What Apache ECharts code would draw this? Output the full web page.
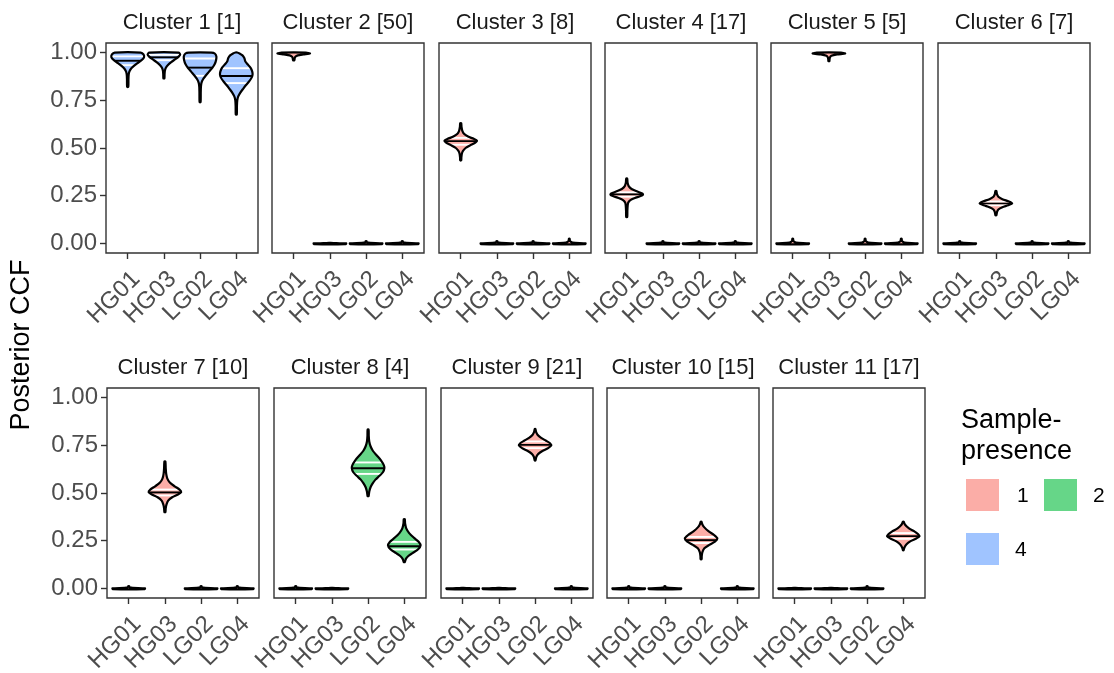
<!DOCTYPE html>
<html>
<head>
<meta charset="utf-8">
<script src="https://cdn.jsdelivr.net/npm/echarts@6/dist/echarts.min.js"></script>
<style>
  html, body { margin: 0; padding: 0; background: #fff; }
  #chart { width: 1114px; height: 673px; }
</style>
</head>
<body>
<div id="chart"></div>
<script>
// ---------------- DATA ----------------
const samples = ['HG01', 'HG03', 'LG02', 'LG04'];
const clusterLabels = ['Cluster 1 [1]', 'Cluster 2 [50]', 'Cluster 3 [8]', 'Cluster 4 [17]',
  'Cluster 5 [5]', 'Cluster 6 [7]', 'Cluster 7 [10]', 'Cluster 8 [4]', 'Cluster 9 [21]',
  'Cluster 10 [15]', 'Cluster 11 [17]'];
const samplePresence = [4, 1, 1, 1, 1, 1, 1, 2, 1, 1, 1];
const presenceLevels = [1, 2, 4];
const yTicks = [0, 0.25, 0.5, 0.75, 1];
const yTitle = 'Posterior CCF';
const legendTitle = ['Sample-', 'presence'];

// violin outlines: [CCF value, relative half-width], top to bottom
// quantiles: [q25, median, q75]
const flatNone = [[0.003, 0.05], [0.0015, 0.4], [0, 1], [-0.004, 0.95]];
const flatLow = [[0.012, 0.02], [0.006, 0.06], [0.003, 0.25], [0, 1], [-0.004, 0.95]];
const flatSpike = [[0.025, 0.02], [0.012, 0.05], [0.005, 0.2], [0, 1], [-0.004, 0.95]];

const cluster1 = [
  [[[1.0, 0.8], [0.99, 0.97], [0.975, 1.0], [0.96, 0.85], [0.945, 0.6], [0.93, 0.38], [0.915, 0.2], [0.9, 0.1], [0.885, 0.06], [0.86, 0.045], [0.82, 0.035]], [0.934, 0.957, 0.98]],
  [[[1.0, 0.9], [0.99, 1.0], [0.98, 0.92], [0.965, 0.7], [0.95, 0.45], [0.935, 0.25], [0.92, 0.12], [0.905, 0.06], [0.885, 0.04], [0.865, 0.03]], [0.96, 0.975, 0.988]],
  [[[1.0, 0.7], [0.995, 0.9], [0.98, 1.0], [0.96, 0.98], [0.94, 0.9], [0.92, 0.75], [0.9, 0.55], [0.88, 0.35], [0.86, 0.18], [0.84, 0.08], [0.82, 0.05], [0.79, 0.04], [0.74, 0.03]], [0.878, 0.921, 0.969]],
  [[[1.0, 0.05], [0.995, 0.2], [0.985, 0.38], [0.97, 0.5], [0.955, 0.55], [0.94, 0.68], [0.92, 0.88], [0.9, 0.98], [0.885, 1.0], [0.87, 0.95], [0.85, 0.8], [0.83, 0.6], [0.81, 0.42], [0.79, 0.25], [0.77, 0.12], [0.75, 0.06], [0.72, 0.04], [0.675, 0.03]], [0.84, 0.877, 0.918]]
];
const cluster2 = [
  [[[1.0, 0.75], [0.995, 1.0], [0.99, 0.6], [0.985, 0.25], [0.978, 0.1], [0.97, 0.06], [0.96, 0.04]], null],
  [flatNone, null], [flatLow, null], [flatLow, null]
];
const cluster3 = [
  [[[0.63, 0.03], [0.61, 0.05], [0.59, 0.1], [0.575, 0.2], [0.56, 0.45], [0.548, 0.8], [0.538, 1.0], [0.528, 0.9], [0.515, 0.6], [0.5, 0.3], [0.485, 0.14], [0.47, 0.07], [0.45, 0.04], [0.435, 0.03]], [0.517, 0.536, 0.553]],
  [flatLow, null], [flatLow, null], [flatSpike, null]
];
const cluster4 = [
  [[[0.34, 0.03], [0.32, 0.05], [0.3, 0.12], [0.285, 0.3], [0.272, 0.65], [0.262, 0.95], [0.256, 1.0], [0.248, 0.85], [0.238, 0.5], [0.228, 0.25], [0.215, 0.1], [0.2, 0.06], [0.17, 0.04], [0.138, 0.03]], [0.245, 0.258, 0.268]],
  [flatLow, null], [flatLow, null], [flatLow, null]
];
const cluster5 = [
  [flatSpike, null],
  [[[1.0, 0.75], [0.995, 1.0], [0.99, 0.5], [0.983, 0.15], [0.975, 0.07], [0.965, 0.04], [0.955, 0.03]], null],
  [flatSpike, null], [flatSpike, null]
];
const cluster6 = [
  [flatLow, null],
  [[[0.275, 0.03], [0.26, 0.06], [0.245, 0.15], [0.232, 0.4], [0.22, 0.8], [0.21, 1.0], [0.2, 0.75], [0.19, 0.4], [0.178, 0.15], [0.165, 0.07], [0.148, 0.03]], [0.2, 0.21, 0.22]],
  [flatLow, null], [flatLow, null]
];
const cluster7 = [
  [flatLow, null],
  [[[0.665, 0.03], [0.63, 0.05], [0.6, 0.08], [0.575, 0.15], [0.555, 0.3], [0.535, 0.6], [0.518, 0.9], [0.505, 1.0], [0.492, 0.8], [0.478, 0.45], [0.46, 0.2], [0.44, 0.1], [0.42, 0.05], [0.4, 0.03]], [0.487, 0.503, 0.518]],
  [flatLow, null], [flatLow, null]
];
const cluster8 = [
  [flatLow, null], [flatNone, null],
  [[[0.832, 0.03], [0.8, 0.04], [0.77, 0.07], [0.745, 0.15], [0.72, 0.3], [0.695, 0.55], [0.67, 0.8], [0.645, 0.97], [0.63, 1.0], [0.61, 0.92], [0.59, 0.7], [0.57, 0.45], [0.55, 0.28], [0.53, 0.15], [0.51, 0.08], [0.495, 0.05], [0.484, 0.03]], [0.6, 0.63, 0.66]],
  [[[0.363, 0.03], [0.34, 0.05], [0.315, 0.12], [0.29, 0.3], [0.265, 0.6], [0.245, 0.88], [0.225, 1.0], [0.205, 0.85], [0.185, 0.5], [0.17, 0.25], [0.155, 0.1], [0.138, 0.03]], [0.204, 0.221, 0.244]]
];
const cluster9 = [
  [flatNone, null], [flatNone, null],
  [[[0.835, 0.02], [0.82, 0.06], [0.805, 0.15], [0.79, 0.35], [0.775, 0.65], [0.762, 0.9], [0.75, 1.0], [0.735, 0.8], [0.72, 0.45], [0.705, 0.2], [0.69, 0.08], [0.67, 0.02]], [0.735, 0.752, 0.77]],
  [flatLow, null]
];
const cluster10 = [
  [flatLow, null], [flatLow, null],
  [[[0.35, 0.02], [0.335, 0.08], [0.32, 0.2], [0.3, 0.45], [0.28, 0.8], [0.262, 1.0], [0.245, 0.85], [0.228, 0.5], [0.21, 0.2], [0.19, 0.08], [0.17, 0.04], [0.153, 0.03]], [0.238, 0.253, 0.27]],
  [flatLow, null]
];
const cluster11 = [
  [flatNone, null], [flatNone, null], [flatLow, null],
  [[[0.35, 0.02], [0.335, 0.1], [0.315, 0.35], [0.298, 0.7], [0.285, 0.9], [0.274, 1.0], [0.262, 0.8], [0.248, 0.45], [0.232, 0.2], [0.215, 0.07], [0.2, 0.02]], [0.26, 0.274, 0.29]]
];
const clusters = [cluster1, cluster2, cluster3, cluster4, cluster5, cluster6, cluster7, cluster8, cluster9, cluster10, cluster11];

// ---------------- STYLE / LAYOUT ----------------
const presenceColors = { 1: '#FBADA7', 2: '#66D688', 4: '#A0C4FF' };
const FONT = '"Liberation Sans", Arial, Helvetica, sans-serif';
const panelW = 152, panelH = 210;
const panelPos = [
  [106, 43], [272, 43], [439, 43], [605, 43], [771, 43], [938, 43],
  [107, 388], [274, 388], [441, 388], [607, 388], [773, 388]
];

function widthAt(prof, y) {
  for (let i = 0; i < prof.length - 1; i++) {
    const a = prof[i], b = prof[i + 1];
    if (y <= a[0] && y >= b[0]) {
      const t = (a[0] - y) / (a[0] - b[0]);
      return a[1] + (b[1] - a[1]) * t;
    }
  }
  return 0;
}

function makeRender(violins, color) {
  return function (params, api) {
    const xv = api.value(0);
    const v = violins[api.value(1)];
    const prof = v[0];
    const half = api.size([0.45, 0])[0];
    const cx = api.coord([xv, 0])[0];
    const right = prof.map(p => [cx + p[1] * half, api.coord([xv, p[0]])[1]]);
    const left = prof.slice().reverse().map(p => [cx - p[1] * half, api.coord([xv, p[0]])[1]]);
    const pts = right.concat(left);
    const children = [{
      type: 'polygon', shape: { points: pts, smooth: 0.25 },
      style: { fill: color, stroke: null }
    }];
    if (v[1]) {
      v[1].forEach((q, k) => {
        const w = widthAt(prof, q) * half;
        const yy = api.coord([xv, q])[1];
        children.push({
          type: 'line', shape: { x1: cx - w, y1: yy, x2: cx + w, y2: yy },
          style: { stroke: k === 1 ? '#000000' : '#FFFFFF', lineWidth: 1.9 }
        });
      });
    }
    children.push({
      type: 'polygon', shape: { points: pts, smooth: 0.25 },
      style: { fill: null, stroke: '#000000', lineWidth: 2.2, lineJoin: 'round' }
    });
    return { type: 'group', children: children };
  };
}

const grids = [], xAxes = [], yAxes = [], series = [], graphics = [];
clusters.forEach((cl, i) => {
  const [l, t] = panelPos[i];
  const firstCol = (i === 0 || i === 6);
  grids.push({ left: l, top: t, width: panelW, height: panelH, show: true,
    containLabel: false, outerBoundsMode: 'none',
    borderColor: '#333333', borderWidth: 1.4, backgroundColor: 'transparent' });
  xAxes.push({
    type: 'value', gridIndex: i, min: 0.4, max: 4.6, position: 'bottom',
    axisLine: { show: false, onZero: false }, splitLine: { show: false },
    axisTick: { show: true, customValues: [1, 2, 3, 4], length: 6, lineStyle: { color: '#333333', width: 1.4 } },
    axisLabel: { show: true, customValues: [1, 2, 3, 4], rotate: 45, margin: 14,
      align: 'right', verticalAlign: 'top',
      formatter: v => samples[Math.round(v) - 1], color: '#4D4D4D', fontSize: 24, fontFamily: FONT }
  });
  yAxes.push({
    type: 'value', gridIndex: i, min: -0.05, max: 1.05, position: 'left',
    axisLine: { show: false, onZero: false }, splitLine: { show: false },
    axisTick: { show: firstCol, customValues: yTicks, length: 6, lineStyle: { color: '#333333', width: 1.4 } },
    axisLabel: { show: firstCol, customValues: yTicks, margin: 9,
      formatter: v => v.toFixed(2), color: '#4D4D4D', fontSize: 24, fontFamily: FONT }
  });
  series.push({
    type: 'custom', xAxisIndex: i, yAxisIndex: i,
    renderItem: makeRender(cl, presenceColors[samplePresence[i]]),
    data: samples.map((s, k) => [k + 1, k]),
    silent: true, animation: false
  });
  graphics.push({
    type: 'text', x: l + panelW / 2, y: t - 20,
    style: { text: clusterLabels[i], fill: '#1A1A1A', font: '22px ' + FONT, textAlign: 'center', textVerticalAlign: 'middle' }
  });
});

// y title
graphics.push({
  type: 'text', x: 22, y: 345, rotation: Math.PI / 2,
  style: { text: yTitle, fill: '#000000', font: '27px ' + FONT, textAlign: 'center', textVerticalAlign: 'middle' }
});
// legend
graphics.push({ type: 'text', x: 961, y: 421, style: { text: legendTitle[0], fill: '#000', font: '27px ' + FONT, textAlign: 'left', textVerticalAlign: 'middle' } });
graphics.push({ type: 'text', x: 961, y: 452, style: { text: legendTitle[1], fill: '#000', font: '27px ' + FONT, textAlign: 'left', textVerticalAlign: 'middle' } });
const legendSlots = [[966, 479, 1017], [1044, 479, 1093], [966, 533, 1015]];
presenceLevels.forEach((lv, k) => {
  const [sx, sy, tx] = legendSlots[k];
  graphics.push({ type: 'rect', shape: { x: sx, y: sy, width: 33, height: 32 }, style: { fill: presenceColors[lv] } });
  graphics.push({ type: 'text', x: tx, y: sy + 17, style: { text: String(lv), fill: '#000', font: '21px ' + FONT, textAlign: 'left', textVerticalAlign: 'middle' } });
});

const chart = echarts.init(document.getElementById('chart'), null, { renderer: 'canvas' });
chart.setOption({
  backgroundColor: '#ffffff',
  animation: false,
  grid: grids, xAxis: xAxes, yAxis: yAxes, series: series,
  graphic: graphics
});
</script>
</body>
</html>
